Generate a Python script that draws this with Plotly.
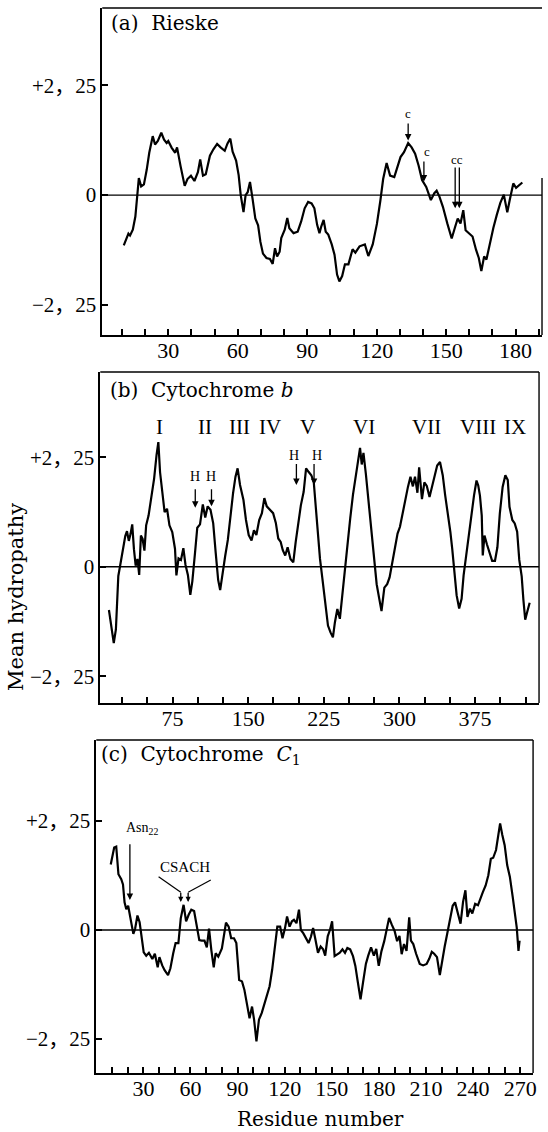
import plotly.graph_objects as go

# ---------------- data ----------------
RIESKE_RES = [10.8, 12.8, 13.5, 14.7, 15.8, 16.5, 17.3, 18.3, 19.5, 20.7, 21.8, 23.3, 24.3, 25.5, 27.0, 28.2, 29.3, 30.0,
              31.5, 33.0, 33.8, 35.3, 37.1, 38.3, 39.8, 41.3, 42.8, 43.8, 45.0, 46.2, 48.0, 49.5, 51.1, 52.6, 54.4, 55.6,
              56.8, 57.8, 59.3, 60.4, 61.3, 62.5, 63.4, 64.3, 65.3, 66.4, 67.6, 68.8, 69.8, 70.9, 72.4, 73.9, 75.1, 76.1,
              77.0, 78.1, 78.8, 80.3, 81.4, 82.3, 84.1, 85.9, 87.4, 88.9, 90.4, 91.9, 93.1, 94.3, 95.3, 96.1, 97.1, 98.0,
              99.1, 100.6, 101.8, 102.9, 103.9, 105.1, 106.3, 107.8, 109.6, 110.8, 112.6, 114.9, 116.4, 118.3, 120.1,
              121.6, 122.8, 124.3, 125.8, 127.6, 128.8, 130.3, 131.8, 133.6, 135.1, 136.6, 138.1, 139.6, 141.4, 143.4,
              144.9, 145.9, 147.1, 148.6, 150.5, 152.4, 153.9, 155.0, 156.2, 157.4, 158.4, 159.9, 161.4, 162.9, 164.1,
              165.2, 166.4, 167.4, 168.9, 170.4, 171.9, 173.4, 174.9, 176.4, 177.5, 179.0, 180.2, 181.7, 182.9]
RIESKE_HYD = [-1.03, -0.79, -0.83, -0.71, -0.44, 0.01, 0.35, 0.18, 0.22, 0.52, 0.87, 1.21, 1.04, 1.11, 1.28, 1.14, 1.07, 1.11,
              0.97, 0.87, 0.98, 0.60, 0.19, 0.33, 0.40, 0.29, 0.47, 0.73, 0.40, 0.43, 0.81, 0.94, 1.05, 0.98, 0.91, 1.06,
              1.16, 0.89, 0.71, 0.41, 0.00, -0.35, 0.00, 0.06, 0.27, -0.07, -0.48, -0.62, -0.96, -1.20, -1.29, -1.31, -1.41, -1.09,
              -1.26, -1.16, -0.88, -0.71, -0.47, -0.68, -0.78, -0.75, -0.54, -0.27, -0.14, -0.17, -0.27, -0.61, -0.78, -0.64, -0.51, -0.75,
              -0.81, -1.01, -1.22, -1.63, -1.77, -1.66, -1.42, -1.42, -1.11, -1.18, -1.05, -1.01, -1.25, -1.01, -0.59,
              -0.11, 0.33, 0.66, 0.40, 0.37, 0.54, 0.78, 0.88, 1.07, 0.98, 0.85, 0.61, 0.31, 0.17, -0.10,
              0.04, 0.09, -0.03, -0.24, -0.58, -0.89, -0.65, -0.48, -0.58, -0.31, -0.72, -0.79, -0.85, -1.12, -1.29,
              -1.56, -1.26, -1.32, -0.98, -0.67, -0.40, -0.16, 0.01, -0.35, -0.09, 0.24, 0.15, 0.22, 0.26]

CYTB_RES = [11.9, 14.3, 16.7, 18.8, 21.2, 22.9, 25.7, 28.1, 29.8, 31.6, 33.3, 35.0, 36.7, 38.4, 40.2, 41.9, 43.6, 45.3, 47.1,
            48.8, 51.2, 54.0, 56.7, 59.1, 60.9, 62.6, 65.0, 67.1, 69.5, 71.9, 74.7, 77.4, 78.8, 80.9, 83.3, 85.7, 87.8,
            90.2, 92.6, 94.6, 97.1, 99.5, 102.2, 105.0, 107.4, 109.8, 112.6, 115.3, 117.8, 120.2, 122.2, 124.7, 127.1,
            129.8, 132.6, 135.0, 137.4, 139.5, 141.9, 145.3, 147.8, 150.5, 153.3, 155.7, 158.1, 160.9, 163.6, 166.0,
            168.4, 171.2, 174.7, 177.4, 179.8, 182.2, 184.3, 186.7, 189.1, 191.9, 194.7, 197.1, 199.5, 202.2, 205.0,
            207.4, 209.8, 212.6, 215.0, 216.7, 218.8, 221.2, 223.6, 226.4, 229.1, 231.6, 234.0, 236.0, 238.4, 240.9,
            243.6, 246.0, 248.8, 251.2, 253.9, 256.7, 259.1, 260.9, 262.6, 264.3, 266.7, 269.5, 271.9, 274.7, 277.4,
            279.8, 282.2, 285.0, 287.8, 290.2, 292.6, 295.3, 298.1, 300.5, 302.9, 305.7, 308.4, 310.9, 313.3, 315.4,
            317.8, 319.5, 322.3, 324.7, 327.1, 329.8, 332.6, 335.0, 337.4, 340.2, 342.9, 345.3, 347.8, 350.5, 352.3,
            354.0, 356.7, 359.2, 361.6, 363.6, 366.0, 368.4, 371.2, 373.9, 376.4, 378.1, 379.8, 381.6, 382.6, 384.3,
            386.7, 389.1, 391.9, 394.7, 397.1, 399.5, 402.3, 405.0, 407.4, 409.1, 411.9, 414.3, 416.7, 418.8, 421.2,
            422.9, 424.7, 426.4, 429.1]
CYTB_HYD = [-0.89, -1.29, -1.57, -1.29, -0.19, 0.01, 0.32, 0.63, 0.73, 0.53, 0.67, 0.87, 0.36, 0.02, 0.16, -0.17, 0.64, 0.57, 0.33,
            0.85, 1.05, 1.46, 1.81, 2.29, 2.56, 1.94, 1.46, 1.12, 1.19, 0.85, 0.71, 0.37, -0.18, 0.17, 0.14, 0.38, 0.04,
            -0.17, -0.58, -0.30, 0.25, 0.80, 0.87, 1.28, 1.01, 1.24, 1.17, 0.89, 0.28, -0.27, -0.48, -0.07, 0.21,
            0.55, 1.10, 1.51, 1.85, 2.02, 1.68, 1.37, 0.96, 0.65, 0.54, 0.75, 0.65, 0.96, 1.10, 1.41,
            1.24, 1.17, 1.10, 0.90, 0.58, 0.51, 0.34, 0.23, 0.40, 0.16, 0.09, 0.51, 0.92, 1.26, 1.54,
            2.02, 1.95, 1.88, 1.74, 1.26, 0.71, 0.16, -0.25, -0.80, -1.21, -1.35, -1.45, -1.14, -0.87, -1.07,
            -0.52, 0.03, 0.60, 1.00, 1.48, 1.83, 2.17, 2.44, 2.10, 2.34, 1.90, 1.28, 0.87, 0.19, -0.36,
            -0.64, -0.91, -0.43, -0.36, -0.22, 0.05, 0.33, 0.68, 0.82, 1.09, 1.37, 1.64, 1.85, 1.65, 1.85,
            1.52, 2.04, 1.39, 1.73, 1.66, 1.43, 1.67, 1.84, 2.08, 2.15, 1.88, 1.47, 1.12, 0.71, 0.37,
            -0.04, -0.59, -0.86, -0.66, -0.18, 0.23, 0.64, 1.05, 1.46, 1.77, 1.67, 1.46, 1.05, 0.23, 0.64,
            0.46, 0.32, 0.12, 0.12, 0.40, 1.09, 1.64, 1.88, 1.78, 1.23, 0.96, 0.89, 0.72, 0.14, -0.20,
            -0.68, -1.09, -0.95, -0.74]

CYTC1_RES = [9.2, 10.3, 11.4, 12.7, 14.1, 15.9, 17.0, 18.0, 19.1, 20.3, 21.4, 22.5, 23.6, 24.7, 26.2, 27.6, 28.7, 30.2,
             31.8, 33.5, 35.7, 37.3, 39.1, 40.2, 42.0, 43.5, 45.7, 47.2, 49.0, 50.5, 52.3, 53.8, 55.6, 57.2, 58.9, 60.5,
             62.3, 63.8, 65.6, 67.1, 68.9, 70.4, 71.8, 73.3, 74.8, 76.0, 77.7, 80.0, 81.0, 82.6, 84.3, 85.9, 87.7, 89.2,
             91.0, 92.8, 94.3, 95.8, 97.6, 99.2, 100.5, 102.0, 103.6, 105.4, 106.9, 108.7, 110.4, 112.0, 113.6, 115.3,
             117.1, 118.6, 120.2, 121.5, 123.1, 124.6, 125.9, 127.5, 129.1, 130.3, 131.9, 133.4, 135.2, 136.7, 138.1,
             139.6, 141.2, 142.9, 144.5, 145.8, 147.4, 148.9, 150.2, 151.8, 153.3, 155.1, 156.8, 158.4, 159.9, 161.7,
             163.5, 165.0, 166.6, 168.3, 169.9, 171.7, 173.2, 175.0, 176.8, 178.3, 179.9, 181.6, 183.4, 184.9, 186.5,
             188.2, 190.0, 191.6, 193.1, 194.5, 196.0, 197.6, 199.3, 200.4, 201.9, 203.7, 206.0, 208.2, 210.4, 212.1,
             213.7, 215.2, 217.0, 218.8, 220.3, 221.9, 223.6, 225.4, 227.0, 228.5, 230.2, 232.0, 233.6, 235.1, 236.4,
             238.0, 239.5, 241.3, 243.1, 244.6, 246.2, 248.0, 249.7, 251.3, 252.8, 254.6, 256.1, 257.2, 258.6, 260.1,
             261.7, 263.4, 265.2, 266.7, 267.8, 268.9, 269.6]
CYTC1_HYD = [1.35, 1.56, 1.70, 1.72, 1.15, 1.05, 0.94, 0.57, 0.43, 0.50, 0.33, 0.16, -0.08, 0.02, 0.30, 0.16, -0.12, -0.46,
             -0.53, -0.47, -0.60, -0.49, -0.77, -0.56, -0.73, -0.83, -0.93, -0.79, -0.48, -0.27, -0.27, 0.24, 0.52, 0.18, 0.32, 0.42,
             0.39, 0.15, -0.21, -0.22, -0.22, -0.36, 0.03, -0.42, -0.77, -0.48, -0.55, -0.38, -0.17, 0.15, 0.07, -0.17, -0.17, -0.27,
             -1.03, -1.06, -1.23, -1.51, -1.82, -1.58, -1.85, -2.30, -1.85, -1.71, -1.54, -1.34, -1.16, -0.82, -0.34, 0.07,
             0.07, -0.17, 0.04, 0.28, 0.07, 0.18, 0.21, 0.14, 0.42, 0.00, -0.07, -0.17, -0.27, -0.14, 0.04,
             -0.20, -0.47, -0.34, -0.40, -0.53, -0.13, 0.01, 0.18, -0.54, -0.51, -0.47, -0.40, -0.47, -0.37, -0.40,
             -0.54, -0.74, -1.08, -1.43, -1.08, -0.70, -0.53, -0.36, -0.53, -0.39, -0.74, -0.44, -0.23, 0.04, 0.25,
             0.11, -0.02, -0.23, -0.12, -0.50, -0.29, -0.43, 0.26, -0.22, -0.29, -0.49, -0.70, -0.73, -0.70, -0.59,
             -0.45, -0.49, -0.56, -0.93, -0.62, -0.34, -0.06, 0.28, 0.50, 0.57, 0.37, 0.13, 0.58, 0.82, 0.27,
             0.44, 0.34, 0.54, 0.51, 0.65, 0.78, 0.92, 1.13, 1.47, 1.49, 1.65, 1.92, 2.20, 1.96, 1.75,
             1.34, 1.10, 0.69, 0.32, 0.05, -0.43, -0.22]

# tick positions / labels
A_TICKS = [10, 20, 30, 40, 50, 60, 70, 80, 90, 100, 110, 120, 130, 140, 150, 160, 170, 180, 190]
A_LABELS = ["", "", "30", "", "", "60", "", "", "90", "", "", "120", "", "", "150", "", "", "180", ""]
B_TICKS = [25, 50, 75, 100, 125, 150, 175, 200, 225, 250, 275, 300, 325, 350, 375, 400, 425]
B_LABELS = ["", "", "75", "", "", "150", "", "", "225", "", "", "300", "", "", "375", "", ""]
C_TICKS = [10, 20, 30, 40, 50, 60, 70, 80, 90, 100, 110, 120, 130, 140, 150, 160, 170, 180, 190, 200, 210,
           220, 230, 240, 250, 260, 270]
C_LABELS = ["", "", "30", "", "", "60", "", "", "90", "", "", "120", "", "", "150", "", "", "180", "", "",
            "210", "", "", "240", "", "", "270"]
Y_TICKS = [-2.25, 0, 2.25]
Y_LABELS = ["\u22122\uff0c25", "0", "+2\uff0c25"]

HELIX_NAMES = ["I", "II", "III", "IV", "V", "VI", "VII", "VIII", "IX"]
HELIX_POS = [61.6, 107.4, 141.6, 172.0, 209.0, 265.0, 326.4, 378.0, 415.0]

W, H = 548, 1132
NUM_FONT = "Liberation Serif, Noto Sans CJK JP"
TXT_FONT = "DejaVu Serif"


def px_x(p):
    return p / W


def px_y(p):
    return 1 - p / H


PANELS = [
    dict(xd=[103.0, 546.0], yd=[8, 335], xr=[1.5, 191.4], yr=[-2.87, 3.84], tv=A_TICKS, tt=A_LABELS),
    dict(xd=[101.0, 543.0], yd=[372, 703], xr=[3.3, 438.4], yr=[-2.80, 4.0], tv=B_TICKS, tt=B_LABELS),
    dict(xd=[97.0, 537.0], yd=[740, 1073], xr=[0.0, 278.2], yr=[-2.95, 3.92], tv=C_TICKS, tt=C_LABELS),
]

fig = go.Figure()
series = [(RIESKE_RES, RIESKE_HYD), (CYTB_RES, CYTB_HYD), (CYTC1_RES, CYTC1_HYD)]
layout = {}
shapes = []
for i, (p, (xs, ys)) in enumerate(zip(PANELS, series), start=1):
    sfx = "" if i == 1 else str(i)
    fig.add_trace(go.Scatter(x=xs, y=ys, mode="lines", line=dict(color="black", width=2.2),
                             xaxis="x" + sfx, yaxis="y" + sfx, showlegend=False, hoverinfo="skip"))
    layout["xaxis" + sfx] = dict(
        domain=[px_x(p["xd"][0]), px_x(p["xd"][1])], range=p["xr"], anchor="y" + sfx,
        showline=True, linecolor="black", linewidth=1.6, ticks="inside", ticklen=6, tickwidth=1.6,
        tickcolor="black", tickvals=p["tv"], ticktext=p["tt"], showgrid=False, zeroline=False,
        ticklabelstandoff=-5,
        tickfont=dict(family=NUM_FONT, size=22, color="black"), fixedrange=True)
    layout["yaxis" + sfx] = dict(
        domain=[px_y(p["yd"][1]), px_y(p["yd"][0])], range=p["yr"], anchor="x" + sfx,
        showline=True, linecolor="black", linewidth=1.6, ticks="inside", ticklen=6, tickwidth=1.6,
        tickcolor="black", tickvals=Y_TICKS, ticktext=Y_LABELS, showgrid=False, zeroline=False,
        tickfont=dict(family=NUM_FONT, size=21, color="black"), fixedrange=True)
    xr = "x" + sfx
    yr = "y" + sfx
    # zero line
    shapes.append(dict(type="line", xref=xr + " domain", yref=yr, x0=0, x1=1, y0=0, y1=0,
                       line=dict(color="black", width=1.4)))
    # top border
    shapes.append(dict(type="line", xref=xr + " domain", yref=yr + " domain", x0=0, x1=1, y0=1, y1=1,
                       line=dict(color="black", width=1.4)))
    # right border
    if i == 1:
        shapes.append(dict(type="line", xref=xr + " domain", yref=yr, x0=1, x1=1, y0=p["yr"][0], y1=0.35,
                           line=dict(color="black", width=1.4)))
    else:
        shapes.append(dict(type="line", xref=xr + " domain", yref=yr + " domain", x0=1, x1=1, y0=0, y1=1,
                           line=dict(color="black", width=1.4)))

ann = []


def arrow(xref, yref, x, ytip, ytail, head=2, size=1.0, width=1.3):
    ann.append(dict(xref=xref, yref=yref, axref=xref, ayref=yref, x=x, y=ytip, ax=x, ay=ytail,
                    text="", showarrow=True, arrowhead=head, arrowsize=size, arrowwidth=width,
                    arrowcolor="black"))


def label(xref, yref, x, y, text, size, family=NUM_FONT, xanchor="center", angle=0):
    ann.append(dict(xref=xref, yref=yref, x=x, y=y, text=text, showarrow=False, xanchor=xanchor,
                    yanchor="middle", textangle=angle, font=dict(family=family, size=size, color="black")))


# panel (a) cleavage sites
label("x", "y", 133.6, 1.68, "c", 13)
arrow("x", "y", 133.6, 1.12, 1.50)
label("x", "y", 141.6, 0.90, "c", 13)
arrow("x", "y", 140.4, 0.28, 0.72)
label("x", "y", 154.8, 0.74, "cc", 13)
arrow("x", "y", 153.9, -0.27, 0.60)
arrow("x", "y", 155.7, -0.27, 0.60)

# panel (b) helices and heme ligands
for name, pos in zip(HELIX_NAMES, HELIX_POS):
    label("x2", "y2", pos, 2.87, name, 21)
label("x2", "y2", 97.1, 1.85, "H", 14)
arrow("x2", "y2", 97.5, 1.21, 1.62)
label("x2", "y2", 113.6, 1.85, "H", 14)
arrow("x2", "y2", 113.6, 1.24, 1.62)
label("x2", "y2", 195.3, 2.28, "H", 14)
arrow("x2", "y2", 197.8, 1.68, 2.14)
label("x2", "y2", 217.8, 2.28, "H", 14)
arrow("x2", "y2", 215.3, 1.68, 2.14)

# panel (c)
label("x3", "y3", 29.1, 2.10, "Asn<sub>22</sub>", 14)
arrow("x3", "y3", 21.4, 0.62, 1.80)
label("x3", "y3", 56.3, 1.31, "CSACH", 15)
shapes.append(dict(type="line", xref="x3", yref="y3", x0=39.7, y0=1.10, x1=53.8, y1=0.78,
                   line=dict(color="black", width=1.2)))
shapes.append(dict(type="line", xref="x3", yref="y3", x0=72.9, y0=1.03, x1=58.5, y1=0.78,
                   line=dict(color="black", width=1.2)))
arrow("x3", "y3", 53.8, 0.58, 0.80, size=0.8)
arrow("x3", "y3", 58.5, 0.58, 0.80, size=0.8)

# panel titles
NB = "\u00a0"
label("paper", "paper", px_x(110), px_y(23), "(a)" + NB + NB + "Rieske", 20, TXT_FONT, "left")
label("paper", "paper", px_x(109), px_y(390), "(b)" + NB + NB + "Cytochrome <i>b</i>", 20, TXT_FONT, "left")
label("paper", "paper", px_x(100), px_y(755), "(c)" + NB + NB + "Cytochrome" + NB + NB + "<i>C</i><sub>1</sub>", 20,
      TXT_FONT, "left")

# axis titles
label("paper", "paper", px_x(16), px_y(597), "Mean hydropathy", 21, TXT_FONT, "center", -90)
label("paper", "paper", px_x(323), px_y(1119), "Residue number", 20, TXT_FONT, "center")

fig.update_layout(width=W, height=H, margin=dict(l=0, r=0, t=0, b=0), paper_bgcolor="white",
                  plot_bgcolor="white", showlegend=False, shapes=shapes, annotations=ann, **layout)
fig.write_html("out.html", config={"displayModeBar": False},
               post_script="document.body.style.margin='0px';document.body.style.overflow='hidden';")
